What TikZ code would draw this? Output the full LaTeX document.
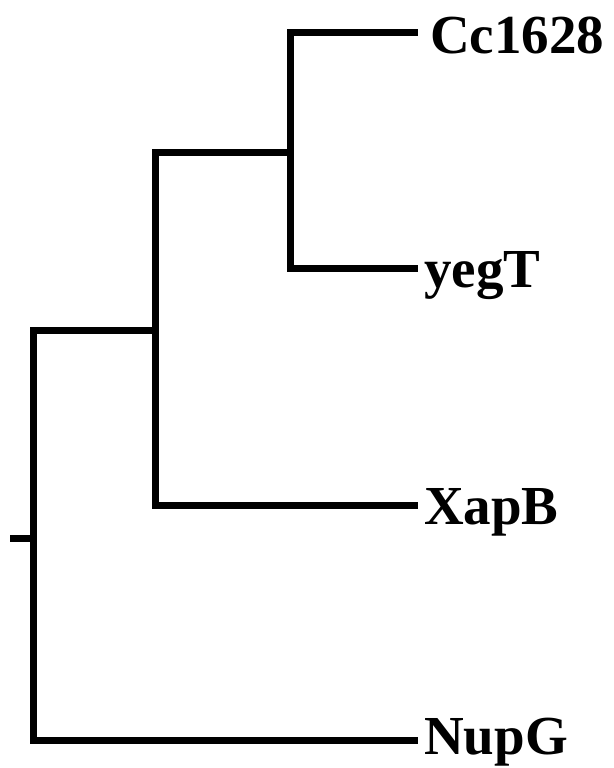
\documentclass[tikz,border=0pt]{standalone}
\usepackage{fontspec}
\setmainfont{Liberation Serif}
\begin{document}
\begin{tikzpicture}[x=1pt,y=-1pt,
  branch/.style={line width=7pt,line join=miter,line cap=butt},
  leaf/.style={anchor=base west,inner sep=0pt,font=\bfseries\fontsize{55}{55}\selectfont}]
\useasboundingbox (0,0) rectangle (613,768);
% internal nodes
\coordinate (stub) at (10,538);
\coordinate (root) at (33,538);
\coordinate (n2) at (155,330);
\coordinate (n3) at (290,152);
% leaf tips
\coordinate (tCc) at (418,33);
\coordinate (tyeg) at (418,268);
\coordinate (tXap) at (418,505);
\coordinate (tNup) at (418,740);
% labels
\node[leaf] (Cc) at (430,53) {Cc1628};
\node[leaf] (yeg) at (424,287) {yegT};
\node[leaf] (Xap) at (424,524) {XapB};
\node[leaf] (Nup) at (424,754) {NupG};
% branches
\draw[branch] (stub) -- (root);
\draw[branch] (root) |- (n2);
\draw[branch] (root) |- (tNup);
\draw[branch] (n2) |- (n3);
\draw[branch] (n2) |- (tXap);
\draw[branch] (n3) |- (tCc);
\draw[branch] (n3) |- (tyeg);
\end{tikzpicture}
\end{document}
